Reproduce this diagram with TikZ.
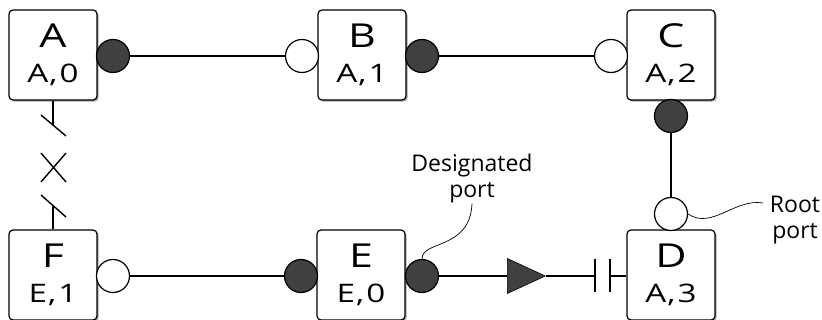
\documentclass[tikz,border=0pt]{standalone}
\usepackage{fontspec}
\setmainfont{Open Sans}
\newfontfamily\subfont[FakeStretch=1.3]{Open Sans}
\usetikzlibrary{shapes.geometric,shadows}

\newcommand\swlabel[3]{{\fontsize{33}{33}\selectfont #1}\\#2\kern1pt,\kern2pt#3}

\tikzset{
  switch/.style={draw, rounded corners=4pt, line width=1.2pt, fill=white,
    minimum width=88pt, minimum height=90pt, align=center, inner sep=0pt,
    font=\subfont\fontsize{25.5}{35}\selectfont,
    drop shadow={shadow xshift=1.6pt, shadow yshift=-1.6pt, fill=black!45, opacity=0.8}},
  dport/.style={circle, draw, line width=1.2pt, fill=black!75, minimum size=33pt, inner sep=0pt},
  rport/.style={circle, draw, line width=1.2pt, fill=white, minimum size=33pt, inner sep=0pt},
  link/.style={line width=2pt},
  leader/.style={line width=0.7pt},
  note/.style={align=center, font=\fontsize{23}{26}\selectfont, inner sep=0pt}
}

\begin{document}
\begin{tikzpicture}[x=1pt, y=-1pt]
\useasboundingbox (0,0) rectangle (822,320);

% switches
\node[switch] (sa) at (53,55) {\swlabel{A}{A}{0}};
\node[switch] (sb) at (362,55) {\swlabel{B}{A}{1}};
\node[switch] (sc) at (671,55) {\swlabel{C}{A}{2}};
\node[switch] (sd) at (671,275) {\swlabel{D}{A}{3}};
\node[switch] (se) at (361,275) {\swlabel{E}{E}{0}};
\node[switch] (sf) at (53,275) {\swlabel{F}{E}{1}};

% links
\draw[link] (113,56) -- (302,56);
\draw[link] (422,56) -- (611,56);
\draw[link] (671,116) -- (671,214);
\draw[link] (113,276) -- (301,276);

% ports
\node[dport] (pAe) at (113,56) {};
\node[rport] (pBw) at (302,56) {};
\node[dport] (pBe) at (422,56) {};
\node[rport] (pCw) at (611,56) {};
\node[dport] (pCs) at (671,116) {};
\node[rport] (pDn) at (671,214) {};
\node[rport] (pFe) at (113,276) {};
\node[dport] (pEw) at (301,276) {};
\node[dport] (pEe) at (422,276) {};

% E to D with triangle and gap
\node[isosceles triangle, isosceles triangle stretches, fill=black!75, draw, line width=0.6pt,
  minimum width=35pt, minimum height=38pt, inner sep=0pt, anchor=lower side] (tri) at (507,276) {};
\coordinate (gap1) at (595,276);
\coordinate (gap2) at (610,276);
\draw[link] (pEe) -- (tri.lower side);
\draw[link] (tri.apex) -- (gap1);
\draw[link] (gap2) -- (sd.west |- gap2);
\draw[line width=1.4pt] ([yshift=-16.5pt]gap1) -- ([yshift=16.5pt]gap1);
\draw[line width=1.4pt] ([yshift=-16.5pt]gap2) -- ([yshift=16.5pt]gap2);

% broken link A - F
\coordinate (brk1) at (53,125);
\coordinate (brk2) at (53,205.5);
\draw[link] (sa.south) -- (brk1);
\draw[link] (brk2) -- (sf.north);
\draw[line width=1.4pt] (41,115) -- (66,136);
\draw[line width=1.4pt] (41,195) -- (66,217);
\draw[line width=1.4pt] (41,153) -- (66,182);
\draw[line width=1.4pt] (41,182) -- (66,153);

% labels
\node[note] (lblD) at (472,179) {Designated\\port};
\node[note] (lblR) at (795,220) {Root\\port};
\coordinate (rootend) at (763,203);
\draw[leader] (pEe.north) .. controls (422,240) and (470,250) .. (lblD.south);
\draw[leader] (pDn.east) .. controls (712,230) and (735,198) .. (rootend);
\end{tikzpicture}
\end{document}
